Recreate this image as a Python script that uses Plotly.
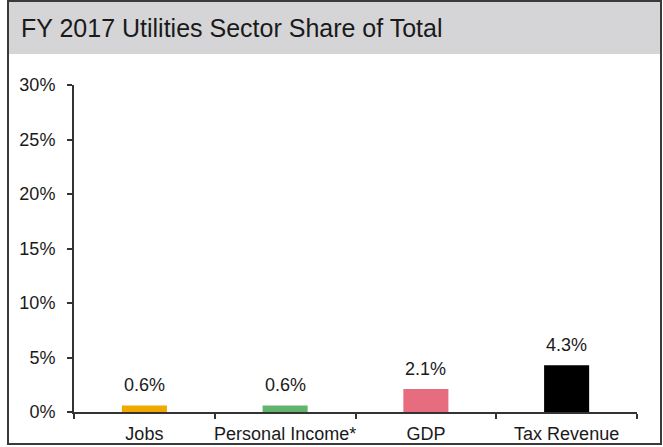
import plotly.graph_objects as go

categories = ["Jobs", "Personal Income*", "GDP", "Tax Revenue"]
values = [0.6, 0.6, 2.1, 4.3]
labels = ["0.6%", "0.6%", "2.1%", "4.3%"]
colors = ["#F0A800", "#62B36B", "#E66C7E", "#000000"]
title_text = "FY 2017 Utilities Sector Share of Total"

W, H = 663, 447
L, R, T, B = 74, 637, 85, 412
pw, ph = R - L, B - T

def px(x):
    return (x - L) / pw

def py(y):
    return (B - y) / ph

fig = go.Figure()
fig.add_trace(go.Bar(
    x=categories, y=values,
    marker=dict(color=colors, line=dict(width=0)),
    width=0.32, hoverinfo="skip",
))

annotations = [
    dict(text=title_text, xref="paper", yref="paper",
         x=px(19), y=py(28), xanchor="left", yanchor="middle",
         showarrow=False, font=dict(size=25, color="#1a1a1a")),
]
for c, v, t in zip(categories, values, labels):
    annotations.append(dict(x=c, y=v, text=t, xref="x", yref="y",
                            yanchor="bottom", yshift=8, showarrow=False,
                            font=dict(size=18, color="#1a1a1a")))

fig.update_layout(
    width=W, height=H,
    margin=dict(l=L, r=W - R, t=T, b=H - B, pad=0),
    paper_bgcolor="white", plot_bgcolor="white",
    font=dict(family="Liberation Sans, Arial, sans-serif", size=18, color="#1a1a1a"),
    showlegend=False,
    xaxis=dict(
        type="category", range=[-0.5, 3.5], tickson="boundaries",
        showline=True, linecolor="#333333", linewidth=2,
        ticks="outside", ticklen=5, tickcolor="#333333", tickwidth=1.5,
        showgrid=False, tickfont=dict(size=18), tickangle=0, automargin=False,
        ticklabelstandoff=4,
    ),
    yaxis=dict(
        range=[0, 30], dtick=5, tick0=0, ticksuffix="%",
        showline=True, linecolor="#333333", linewidth=2,
        ticks="outside", ticklen=5, tickcolor="#333333", tickwidth=1.5,
        showgrid=False, zeroline=False, tickfont=dict(size=18), automargin=False,
        ticklabelstandoff=8,
    ),
    shapes=[
        dict(type="rect", xref="paper", yref="paper",
             x0=px(8), x1=px(661), y0=py(54), y1=py(1),
             fillcolor="#D5D5D7", line=dict(width=0), layer="below"),
        dict(type="rect", xref="paper", yref="paper",
             x0=px(8), x1=px(661), y0=py(444), y1=py(1),
             fillcolor="rgba(0,0,0,0)", line=dict(color="#3a3a3a", width=2)),
    ],
    annotations=annotations,
)

fig.write_html("out.html", config={"displayModeBar": False},
               post_script="document.body.style.margin='0px';document.body.style.padding='0px';")
